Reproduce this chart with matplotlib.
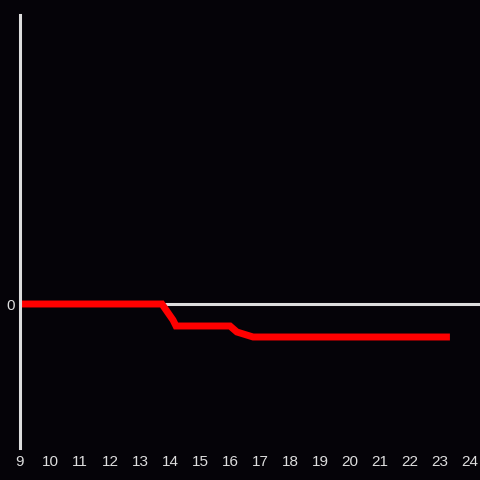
import matplotlib
matplotlib.use("Agg")
import matplotlib.pyplot as plt

hours = [9, 13.73, 14.1, 14.2, 16.0, 16.23, 16.77, 23.33]
values = [0, 0, -1.6, -2.2, -2.2, -2.8, -3.3, -3.3]
xticks = list(range(9, 25))

bg = "#050308"
fg = "#dddddd"

plt.rcParams['font.family'] = ['Liberation Sans', 'DejaVu Sans']

fig = plt.figure(figsize=(4.8, 4.8), dpi=100, facecolor=bg)
ax = fig.add_axes([20/480, 32/480, 460/480, 433/480], facecolor=bg)

ax.axhline(0, color=fg, lw=2.2, zorder=1)
ax.plot(hours, values, color="#ff0000", lw=5, solid_joinstyle="miter",
        solid_capstyle="butt", zorder=2)

ax.set_xlim(9, 24.333)
ax.set_ylim(-14.4, 28.9)
ax.set_xticks(xticks)
ax.set_yticks([0])
ax.tick_params(length=0, colors=fg, labelsize=11)
ax.tick_params(axis='x', pad=5)
ax.tick_params(axis='y', pad=4)

for s in ['top', 'right', 'bottom']:
    ax.spines[s].set_visible(False)
ax.spines['left'].set_color(fg)
ax.spines['left'].set_linewidth(2.2)

fig.savefig("out.png", dpi=100, facecolor=bg)
